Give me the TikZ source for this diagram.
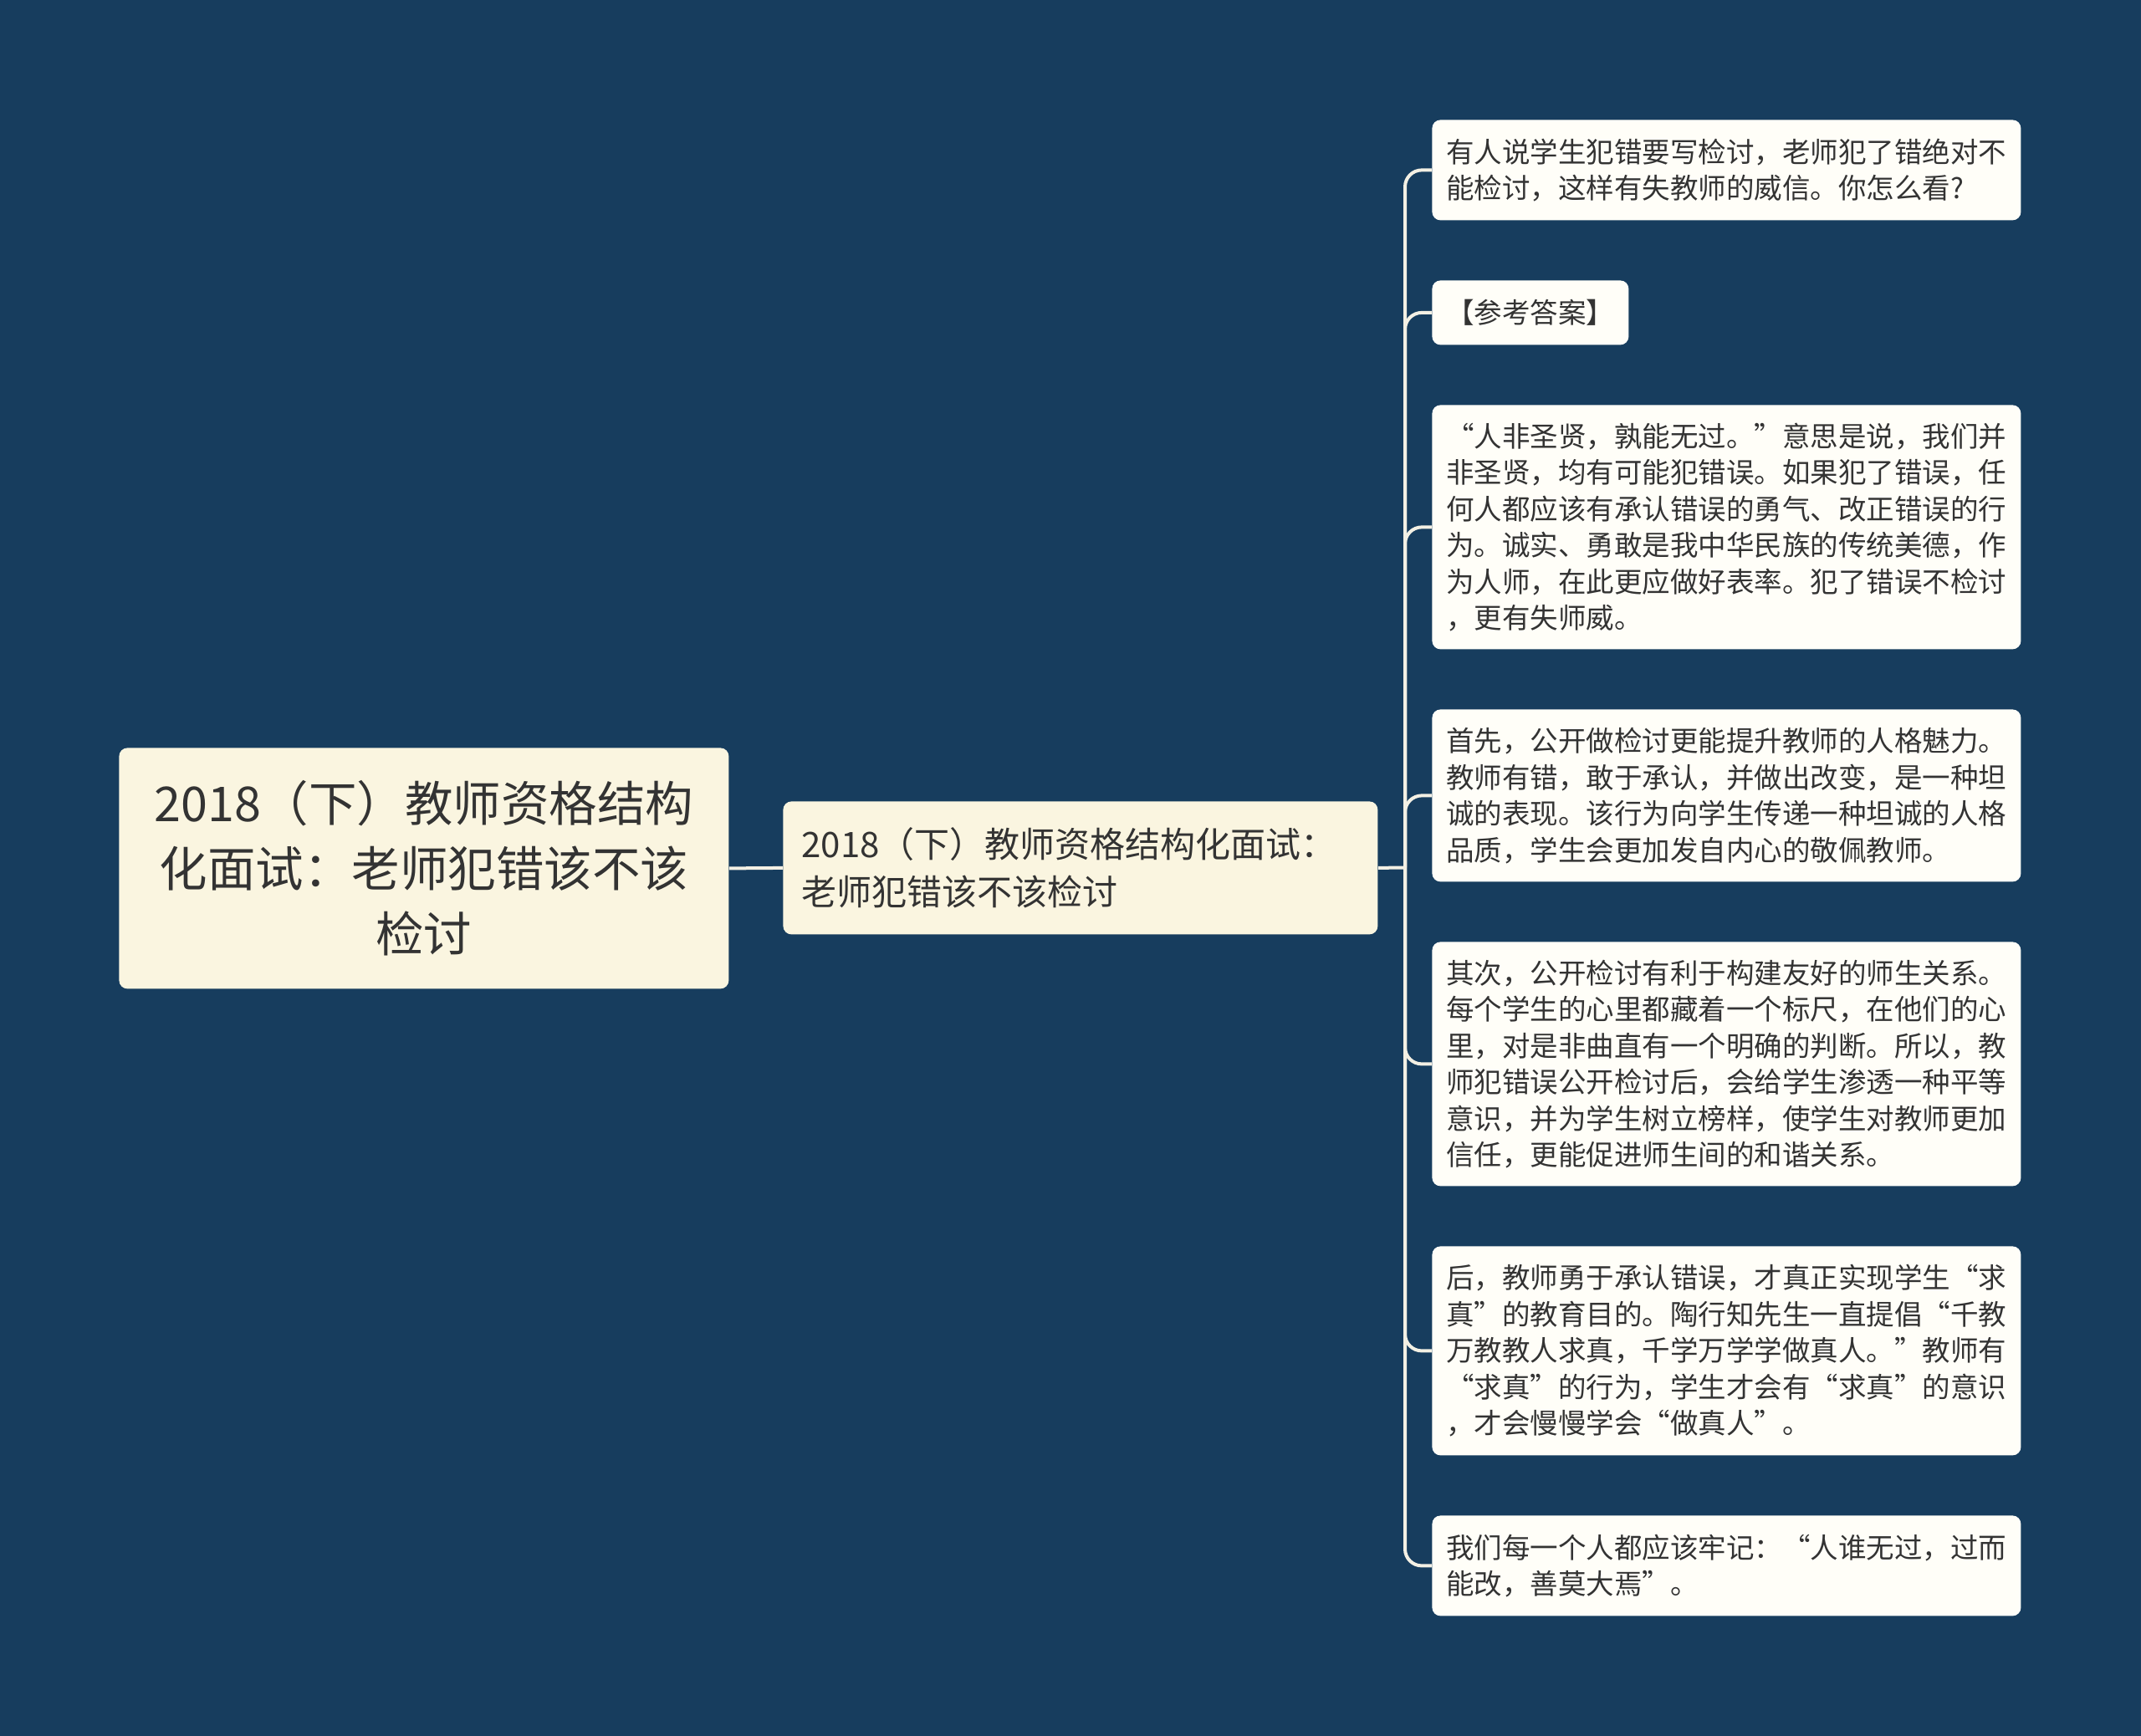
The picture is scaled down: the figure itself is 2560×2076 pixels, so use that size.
\documentclass[tikz,border=0pt]{standalone}
\usepackage{fontspec}
\setmainfont{Noto Sans CJK SC}
\definecolor{bgnavy}{HTML}{173D5E}
\definecolor{creamfill}{HTML}{FAF5E0}
\definecolor{leaffill}{HTML}{FFFEF8}
\definecolor{inkgray}{HTML}{333333}
\definecolor{linecream}{HTML}{F3F0E4}
\tikzset{
  box/.style={draw=none, rounded corners=5pt, anchor=north west, text=inkgray, inner ysep=0pt},
  rootbox/.style={box, fill=creamfill, inner xsep=10pt, text width=344.5pt, align=center,
    minimum width=364.5pt, minimum height=144pt, font=\fontsize{28.75}{39}\selectfont},
  midbox/.style={box, fill=creamfill, inner xsep=11pt, text width=333.5pt, align=left,
    minimum height=79.5pt, font=\fontsize{21}{28.5}\selectfont},
  leafbox/.style={box, fill=leaffill, inner xsep=8.5pt, text width=335pt, align=left,
    font=\fontsize{16.75}{21.75}\selectfont},
  branch/.style={draw=linecream, line width=2pt, rounded corners=10pt}
}
\begin{document}
\begin{tikzpicture}[x=0.5pt,y=-0.5pt]
  \fill[bgnavy] (0,0) rectangle (2560,2076);

  % root and middle topic
  \node[rootbox] (root) at (142,894) {2018（下）教师资格结构\\化面试：老师犯错该不该\\检讨};
  \node[midbox] (mid) at (936,958) {2018（下）教师资格结构化面试：\\老师犯错该不该检讨};

  % leaves
  \node[leafbox, minimum height=60pt] (l1) at (1712,143) {有人说学生犯错要写检讨，老师犯了错绝对不\\能检讨，这样有失教师的威信。你怎么看?};
  \node[box, fill=leaffill, inner xsep=8.5pt, minimum height=38.5pt, font=\fontsize{16.75}{21.75}\selectfont] (l2) at (1712,335) {【参考答案】};
  \node[leafbox, minimum height=146pt] (l3) at (1712,484) {“人非圣贤，孰能无过。”意思是说，我们并\\非圣贤，均有可能犯错误。如果犯了错误，任\\何人都应该有承认错误的勇气、改正错误的行\\为。诚实、勇敢是我中华民族的传统美德，作\\为人师，在此更应做好表率。犯了错误不检讨\\，更有失师威。};
  \node[leafbox, minimum height=103pt] (l4) at (1712,848) {首先，公开做检讨更能提升教师的人格魅力。\\教师有错，敢于承认，并做出改变，是一种坦\\诚的表现。该行为向学生传递一种坦诚的人格\\品质，学生会更加发自内心的敬佩教师。};
  \node[leafbox, minimum height=146pt] (l5) at (1712,1126) {其次，公开检讨有利于构建友好的师生关系。\\每个学生的心里都藏着一个标尺，在他们的心\\里，对是非曲直有一个明确的判断。所以，教\\师犯错误公开检讨后，会给学生渗透一种平等\\意识，并为学生树立榜样，使学生对教师更加\\信任，更能促进师生间的和谐关系。};
  \node[leafbox, minimum height=125pt] (l6) at (1712,1490) {后，教师勇于承认错误，才真正实现学生“求\\真”的教育目的。陶行知先生一直提倡“千教\\万教教人求真，千学万学学做真人。”教师有\\“求真”的行为，学生才会有“求真”的意识\\，才会慢慢学会“做真人”。};
  \node[leafbox, minimum height=60pt] (l7) at (1712,1812) {我们每一个人都应该牢记：“人谁无过，过而\\能改，善莫大焉”。};

  % connectors
  \coordinate (jn) at (1680,1037.5);
  \draw[branch] (root.east) -- (mid.west);
  \draw[branch] (mid.east) -- (jn);
  \foreach \leaf in {l1,l2,l3,l4,l5,l6,l7}
    \draw[branch] (jn) |- (\leaf.west);

\end{tikzpicture}
\end{document}
